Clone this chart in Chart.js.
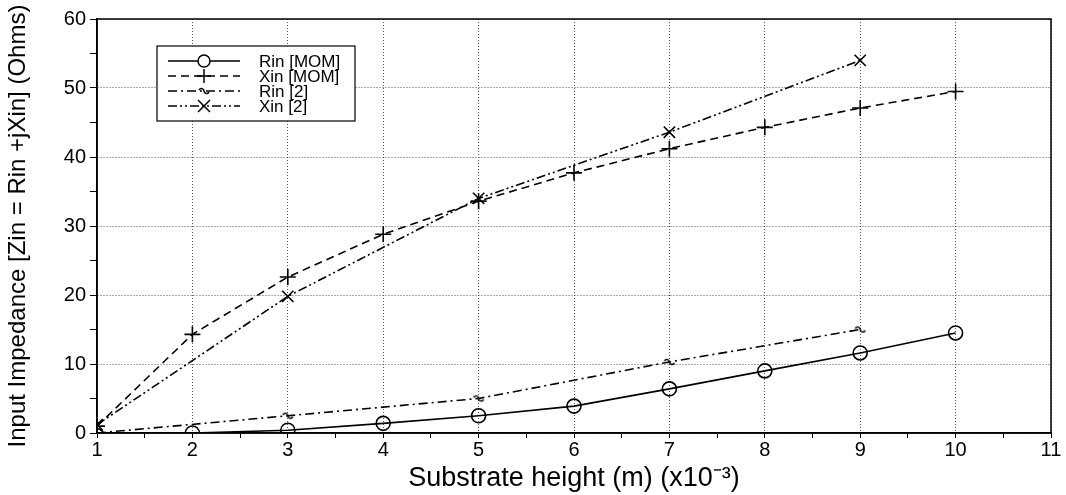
<!DOCTYPE html>
<html>
<head>
<meta charset="utf-8">
<script src="https://cdn.jsdelivr.net/npm/chart.js@4.4.1/dist/chart.umd.min.js"></script>
<style>
  html, body { margin: 0; padding: 0; background: #fff; }
  #wrap { width: 1066px; height: 495px; position: relative; }
</style>
</head>
<body>
<div id="wrap"><canvas id="myChart"></canvas></div>
<script>
// substrate height (x10^-3 m)
var hMom = [1, 2, 3, 4, 5, 6, 7, 8, 9, 10];
var rinMom = [-0.4, 0.0, 0.4, 1.4, 2.5, 3.9, 6.4, 9.0, 11.6, 14.5];
var xinMom = [1.0, 14.3, 22.6, 28.8, 33.6, 37.7, 41.2, 44.3, 47.1, 49.5];

var hRef = [1, 3, 5, 7, 9];
var rinRef = [0.0, 2.5, 5.0, 10.3, 15.0];
var xinRef = [1.2, 19.8, 34.0, 43.6, 54.0];

var yTicks = [0, 10, 20, 30, 40, 50, 60];
var xTicks = [1, 2, 3, 4, 5, 6, 7, 8, 9, 10, 11];

var seriesNames = ['Rin [MOM]', 'Xin [MOM]', 'Rin [2]', 'Xin [2]'];

var FONT = '"Liberation Sans", Arial, sans-serif';

function pts(xs, ys) {
    return xs.map(function(x, i){ return {x: x, y: ys[i]}; });
}

// tilde marker for Rin [2]
var tilde = document.createElement('canvas');
tilde.width = 14; tilde.height = 10;
var tc = tilde.getContext('2d');
tc.strokeStyle = '#000';
tc.lineWidth = 1.5;
tc.beginPath();
tc.moveTo(2, 4);
tc.bezierCurveTo(4, 1, 7, 3, 7, 5);
tc.bezierCurveTo(7, 7, 10, 9, 12, 6);
tc.stroke();

var dashes = [[], [8, 5], [9, 4, 2, 4], [9, 3, 2, 3, 2, 3]];
var styles = ['circle', 'cross', tilde, 'crossRot'];
var radii = [7, 8, 7, 8];

// frame + legend box drawn like the original plot
var boxLegend = {
    id: 'boxLegend',
    afterDraw: function(chart){
        var ctx = chart.ctx;
        var area = chart.chartArea;
        ctx.save();
        ctx.strokeStyle = '#000';
        ctx.lineWidth = 1.5;
        ctx.setLineDash([]);
        ctx.strokeRect(area.left, area.top, area.right - area.left, area.bottom - area.top);

        var bx = 157, by = 46, bw = 198, bh = 75;
        ctx.fillStyle = '#fff';
        ctx.fillRect(bx, by, bw, bh);
        ctx.lineWidth = 1.2;
        ctx.strokeRect(bx, by, bw, bh);
        ctx.font = '17px ' + FONT;
        ctx.textBaseline = 'middle';
        chart.data.datasets.forEach(function(ds, i){
            var y = 61 + i * 15;
            ctx.strokeStyle = '#000';
            ctx.lineWidth = 1.5;
            ctx.setLineDash(ds.borderDash || []);
            ctx.beginPath();
            ctx.moveTo(168, y);
            ctx.lineTo(240, y);
            ctx.stroke();
            ctx.setLineDash([]);
            var mx = 204;
            ctx.beginPath();
            if (ds.pointStyle === 'circle') {
                ctx.fillStyle = '#fff';
                ctx.arc(mx, y, 6, 0, Math.PI * 2);
                ctx.fill();
                ctx.stroke();
            } else if (ds.pointStyle === 'cross') {
                ctx.moveTo(mx - 7, y); ctx.lineTo(mx + 7, y);
                ctx.moveTo(mx, y - 7); ctx.lineTo(mx, y + 7);
                ctx.stroke();
            } else if (ds.pointStyle === 'crossRot') {
                ctx.moveTo(mx - 6, y - 6); ctx.lineTo(mx + 6, y + 6);
                ctx.moveTo(mx + 6, y - 6); ctx.lineTo(mx - 6, y + 6);
                ctx.stroke();
            } else {
                ctx.drawImage(ds.pointStyle, mx - 7, y - 5);
            }
            ctx.fillStyle = '#000';
            ctx.fillText(ds.label, 259, y + 1);
        });
        ctx.restore();
    }
};

var ctx = document.getElementById('myChart').getContext('2d');
var myChart = new Chart(ctx, {
    type: 'line',
    data: {
        datasets: [
            { label: seriesNames[0], data: pts(hMom, rinMom) },
            { label: seriesNames[1], data: pts(hMom, xinMom) },
            { label: seriesNames[2], data: pts(hRef, rinRef) },
            { label: seriesNames[3], data: pts(hRef, xinRef) }
        ].map(function(ds, i){
            ds.borderColor = '#000';
            ds.backgroundColor = '#fff';
            ds.borderWidth = 1.6;
            ds.borderDash = dashes[i];
            ds.pointStyle = styles[i];
            ds.pointRadius = radii[i];
            ds.pointBorderWidth = 1.6;
            ds.pointBorderColor = '#000';
            ds.pointBackgroundColor = 'rgba(0,0,0,0)';
            ds.tension = 0;
            ds.fill = false;
            return ds;
        })
    },
    plugins: [boxLegend],
    options: {
        responsive: true,
        maintainAspectRatio: false,
        animation: false,
        layout: { padding: { left: 0, top: 19, right: 15, bottom: 0 } },
        plugins: {
            legend: { display: false },
            tooltip: { enabled: false }
        },
        scales: {
            x: {
                type: 'linear',
                min: xTicks[0],
                max: xTicks[xTicks.length - 1],
                afterFit: function(s){ s.height = 62; },
                ticks: {
                    stepSize: 0.5,
                    autoSkip: false,
                    maxRotation: 0,
                    color: '#000',
                    font: { family: FONT, size: 20 },
                    padding: 0,
                    callback: function(v){ return xTicks.indexOf(v) >= 0 ? String(v) : ''; }
                },
                grid: {
                    color: function(c){ return c.tick && Number.isInteger(c.tick.value) ? '#555' : 'rgba(0,0,0,0)'; },
                    tickColor: '#000',
                    tickLength: 5,
                    lineWidth: 1
                },
                border: { color: '#000', width: 1.5, dash: [1, 2] },
                title: {
                    display: true,
                    text: 'Substrate height (m) (x10⁻³)',
                    color: '#000',
                    font: { family: FONT, size: 27 },
                    padding: { top: 0, bottom: 0 }
                }
            },
            y: {
                min: yTicks[0],
                max: yTicks[yTicks.length - 1],
                afterFit: function(s){ s.width = 97; },
                ticks: {
                    stepSize: 5,
                    autoSkip: false,
                    color: '#000',
                    font: { family: FONT, size: 20 },
                    padding: 4,
                    callback: function(v){ return yTicks.indexOf(v) >= 0 ? String(v) : ''; }
                },
                grid: {
                    color: function(c){ return c.tick && c.tick.value % 10 === 0 ? '#555' : 'rgba(0,0,0,0)'; },
                    tickColor: '#000',
                    tickLength: 7,
                    lineWidth: 1
                },
                border: { color: '#000', width: 1.5, dash: [1, 2] },
                title: {
                    display: true,
                    text: 'Input Impedance [Zin = Rin +jXin] (Ohms)',
                    color: '#000',
                    font: { family: FONT, size: 24 },
                    padding: { top: 4, bottom: 4 }
                }
            }
        }
    }
});
</script>
</body>
</html>
